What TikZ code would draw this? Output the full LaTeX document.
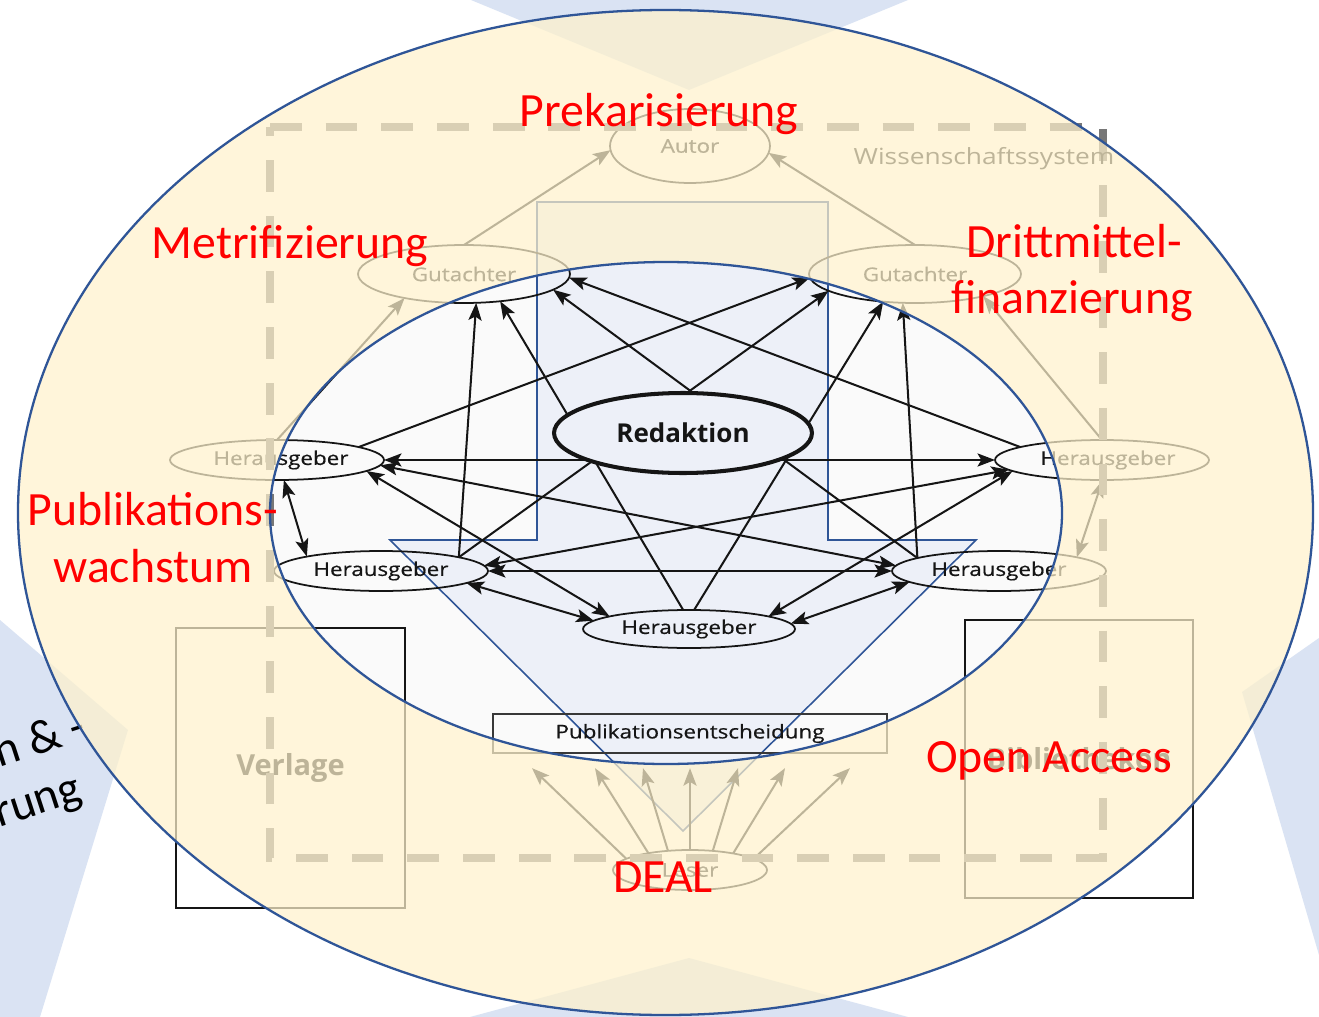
\documentclass[tikz,border=0pt]{standalone}
\usepackage{fontspec}
\usepackage{graphicx}
\setmainfont{Carlito}
\newfontfamily\netfont{Open Sans}[FakeBold=0.5]
\newfontfamily\netheavy{Open Sans}
\usetikzlibrary{arrows.meta,shapes.geometric,calc}

\definecolor{slideblue}{HTML}{DAE3F3}
\definecolor{rimblue}{HTML}{2F5597}
\definecolor{goldpale}{HTML}{FFF2CC}
\definecolor{arrowfill}{HTML}{EDF0F8}
\definecolor{fieldgray}{HTML}{FAFAFA}
\definecolor{frameg}{HTML}{777777}
\definecolor{ink}{HTML}{151515}

% horizontally widened label text of the network sketch
\newcommand{\wide}[1]{\scalebox{1.18}[1]{#1}}

\begin{document}
\begin{tikzpicture}[x=0.02cm, y=-0.02cm,
  >={Stealth[length=10pt,width=7.5pt,inset=2.2pt]},
  netlabel/.style={font=\netfont\fontsize{10.8}{13}\selectfont, text=ink},
  actor/.style={ellipse, draw=ink, line width=1pt, inner sep=0pt, outer sep=0pt, netlabel},
  editor/.style={actor, minimum width=4.28cm, minimum height=0.8cm},
  reviewer/.style={actor, minimum width=4.24cm, minimum height=1.16cm},
  link/.style={draw=ink, line width=1.15pt, ->},
  mutual/.style={draw=ink, line width=1.15pt, <->},
  boxlabel/.style={draw=ink, line width=0.9pt, inner sep=0pt, text=ink,
    font=\netheavy\bfseries\fontsize{16.5}{19}\selectfont},
  theme/.style={text=red, inner sep=0pt, anchor=base, font=\fontsize{27.2}{33}\selectfont},
  cyclabel/.style={rotate=18, inner sep=0pt, anchor=base east, text=black,
    font=\fontsize{27}{33}\selectfont},
]
\useasboundingbox (0,0) rectangle (1319,1017);
\fill[white] (0,0) rectangle (1319,1017);

% background chevrons of the slide cycle
\fill[slideblue] (471,0) -- (908,0) -- (689,90) -- cycle;
\fill[slideblue] (470,1017) -- (689,958) -- (908,1017) -- cycle;
\fill[slideblue] (0,620) -- (128,730) -- (40,1017) -- (0,1017) -- cycle;
\fill[slideblue] (1319,638) -- (1242,692) -- (1319,955) -- cycle;

% label of the left chevron
\node[cyclabel] (cycA) at (89,739) {n \& -};
\node[cyclabel] (cycB) at (84,800) {rung};

% light field of the inner circle
\fill[fieldgray] (666,513) ellipse [x radius=396, y radius=251];

% big downward arrow
\draw[rimblue, line width=0.9pt, fill=arrowfill]
  (537,202) -- (828,202) -- (828,540) -- (976,540) -- (683,831)
  -- (390,540) -- (537,540) -- cycle;

% actors
\node[actor, minimum width=3.2cm, minimum height=1.48cm] (autor) at (690,146) {\wide{Autor}};
\node[reviewer] (gutL) at (464,274) {\wide{Gutachter}};
\node[reviewer] (gutR) at (915,274) {\wide{Gutachter}};
\node[editor] (hl1) at (277,460) {\hspace*{0.16cm}\wide{Herausgeber}};
\node[editor] (hr1) at (1102,460) {\hspace*{0.24cm}\wide{Herausgeber}};
\node[editor] (hl2) at (381,571) {\wide{Herausgeber}};
\node[editor] (hr2) at (999,571) {\wide{Herausgeber}};
\node[editor, minimum width=4.24cm, minimum height=0.76cm] (hb) at (689,629) {\wide{Herausgeber}};
\node[actor, minimum width=3.08cm, minimum height=0.8cm] (leser) at (690,870) {\wide{Leser}};
\node[netlabel, draw=ink!85, line width=1.3pt, inner sep=0pt,
  minimum width=7.88cm, minimum height=0.78cm] (pub) at (690,733.5) {\wide{Publikationsentscheidung}};
\node[boxlabel, minimum width=4.58cm, minimum height=5.6cm] (verlage) at (290.5,768) {Verlage};
\node[boxlabel, minimum width=4.56cm, minimum height=5.56cm] (biblio) at (1079,759) {Bibliotheken};

% reviewers report to the author
\draw[link] (gutL.90) -- (autor.183);
\draw[link] (gutR.90) -- (autor.-5);

% editors consult the reviewers
\draw[link] (hl1.90)  -- (gutL.-158);
\draw[link] (hl2.10)  -- (gutL.-67);
\draw[link] (hb.107)  -- (gutL.-37);
\draw[link] (hr2.171) -- (gutL.-10);
\draw[link] (hr1.171) -- (gutL.-2);
\draw[link] (hl1.9)   -- (gutR.182);
\draw[link] (hl2.10)  -- (gutR.-169);
\draw[link] (hb.75)   -- (gutR.-139);
\draw[link] (hr2.171) -- (gutR.-113);
\draw[link] (hr1.90)  -- (gutR.-18);

% editors among each other
\draw[mutual] (hl1.-71) -- (hl2.169);
\draw[mutual] (hl1.0)   -- (hr1.180);
\draw[mutual] (hl1.-7)  -- (hb.171);
\draw[mutual] (hl1.-3)  -- (hr2.177);
\draw[mutual] (hl2.3)   -- (hr1.186);
\draw[mutual] (hl2.0)   -- (hr2.180);
\draw[mutual] (hl2.-8)  -- (hb.175);
\draw[mutual] (hr1.187) -- (hb.9);
\draw[mutual] (hr2.187) -- (hb.3);
\draw[mutual] (hr1.-88) -- (hr2.10);

% readers towards the publication decision
\draw[link] (leser.170) -- ([shift={(-158,14)}]pub.south);
\draw[link] (leser.158) -- ([shift={(-95,14)}]pub.south);
\draw[link] (leser.139) -- ([shift={(-47,14)}]pub.south);
\draw[link] (leser.90)  -- ([shift={(0,14)}]pub.south);
\draw[link] (leser.40)  -- ([shift={(48,14)}]pub.south);
\draw[link] (leser.21)  -- ([shift={(95,14)}]pub.south);
\draw[link] (leser.10)  -- ([shift={(160,14)}]pub.south);

% editorial office in the middle
\node[ellipse, draw=ink, line width=2.3pt, fill=arrowfill, inner sep=0pt,
  minimum width=5.16cm, minimum height=1.6cm, text=ink,
  font=\netheavy\bfseries\fontsize{14.8}{17}\selectfont] (redaktion) at (683,433) {Redaktion};

% frame of the science system
\draw[frameg, line width=4.25pt, dash pattern=on 18.1pt off 13.6pt]
  (270,127) -- (1103,127) -- (1103,858) -- (270,858) -- cycle;
\node[anchor=base, inner sep=0pt, text=ink,
  font=\netheavy\fontsize{12.7}{15}\selectfont] (system) at (984,165) {\wide{Wissenschaftssystem}};

% pale veil on the outer ring
\fill[goldpale, opacity=0.72, even odd rule]
  (665.5,512.5) ellipse [x radius=647.5, y radius=502.5]
  (666,513) ellipse [x radius=396, y radius=251];
\draw[rimblue, line width=1.3pt] (665.5,512.5) ellipse [x radius=647.5, y radius=502.5];
\draw[rimblue, line width=1.3pt] (666,513) ellipse [x radius=396, y radius=251];

% themes
\node[theme] (prek) at (659,127) {Prekarisierung};
\node[theme] (metr) at (290,258) {Metrifizierung};
\node[theme] (dritt) at (1074,257) {Drittmittel-};
\node[theme] (finanz) at (1072,313) {finanzierung};
\node[theme] (publ) at (153,525) {Publikations-};
\node[theme] (wachs) at (153,582) {wachstum};
\node[theme] (oa) at (1049,772) {Open Access};
\node[theme] (deal) at (663,892) {DEAL};
\end{tikzpicture}
\end{document}
